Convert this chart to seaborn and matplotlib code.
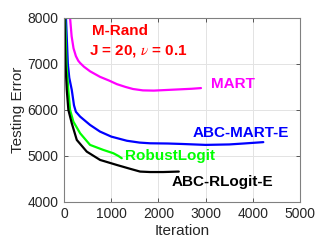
import pandas as pd
import numpy as np
import matplotlib
matplotlib.use('Agg')
import matplotlib.pyplot as plt
import seaborn as sns

sns.set_style('whitegrid')
plt.rcParams['font.family'] = ['Liberation Sans', 'DejaVu Sans']
plt.rcParams['mathtext.fontset'] = 'stix'

# values
mart_iter = [127, 160, 200, 250, 300, 340, 420, 550, 760, 950, 1120, 1300, 1460, 1670, 1900, 2100, 2300, 2500, 2700, 2900]
mart_err = [8000, 7600, 7340, 7170, 7070, 7020, 6940, 6840, 6720, 6640, 6560, 6500, 6455, 6425, 6420, 6430, 6440, 6450, 6460, 6475]

abcmart_iter = [40, 60, 80, 110, 163, 210, 250, 340, 450, 550, 760, 1000, 1330, 1600, 1820, 2200, 2500, 3000, 3500, 3800, 4220]
abcmart_err = [8000, 7500, 7000, 6700, 6435, 6100, 5960, 5855, 5760, 5674, 5530, 5420, 5330, 5290, 5275, 5270, 5260, 5240, 5250, 5270, 5300]

robust_iter = [20, 50, 90, 127, 197, 340, 550, 833, 1045, 1150, 1222]
robust_err = [8000, 7000, 6435, 6000, 5745, 5493, 5240, 5130, 5058, 5000, 4950]

abcrlogit_iter = [10, 30, 57, 91, 163, 269, 480, 763, 1116, 1400, 1610, 1820, 2100, 2430]
abcrlogit_err = [8000, 7000, 6435, 6000, 5710, 5348, 5094, 4913, 4804, 4720, 4660, 4650, 4650, 4660]

series = [
    ('MART', mart_iter, mart_err, '#ff00ff'),
    ('ABC-MART-E', abcmart_iter, abcmart_err, '#0000ff'),
    ('RobustLogit', robust_iter, robust_err, '#00ff00'),
    ('ABC-RLogit-E', abcrlogit_iter, abcrlogit_err, '#000000'),
]

fig = plt.figure(figsize=(3.32, 2.49), dpi=100)
ax = fig.add_axes([0.193, 0.189, 0.711, 0.739])

for name, it, err, col in series:
    df = pd.DataFrame({'Iteration': it, 'Error': err})
    sns.lineplot(data=df, x='Iteration', y='Error', color=col, lw=1.6,
                 sort=False, estimator=None, ax=ax)

ax.set_xlim(0, 5000)
ax.set_ylim(4000, 8000)
ax.set_xticks([0, 1000, 2000, 3000, 4000, 5000])
ax.set_yticks([4000, 5000, 6000, 7000, 8000])
ax.grid(True, color='#e3e3e3', lw=0.7)
for s in ax.spines.values():
    s.set_color('#808080')
    s.set_linewidth(0.8)
ax.tick_params(direction='in', length=3, width=0.6, color='#404040',
               labelsize=10, labelcolor='#262626', top=True, right=True,
               bottom=True, left=True, pad=4)
ax.set_xlabel('Iteration', fontsize=11, color='#262626', labelpad=2)
ax.set_ylabel('Testing Error', fontsize=11, color='#262626', labelpad=2)

bold = dict(fontsize=11, fontweight='bold')
ax.text(1190, 7720, 'M-Rand', color='red', ha='center', va='center', **bold)
ax.text(1580, 7280, r'J = 20, $\nu$ = 0.1', color='red', ha='center', va='center', **bold)
ax.text(3110, 6565, 'MART', color='#ff00ff', ha='left', va='center', **bold)
ax.text(2725, 5500, 'ABC-MART-E', color='#0000ff', ha='left', va='center', **bold)
ax.text(1290, 4990, 'RobustLogit', color='#00ff00', ha='left', va='center', **bold)
ax.text(2270, 4440, 'ABC-RLogit-E', color='black', ha='left', va='center', **bold)

fig.savefig('out.png', dpi=100)
